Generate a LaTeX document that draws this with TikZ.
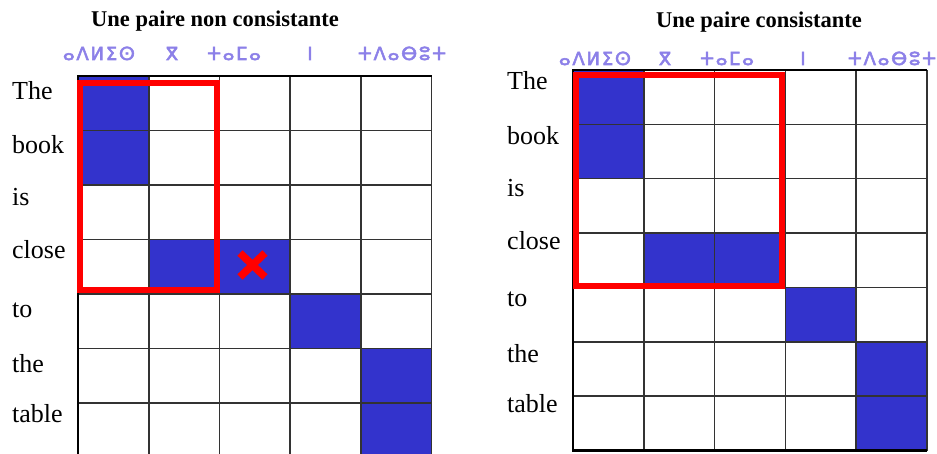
\documentclass[tikz,border=0pt]{standalone}
\usepackage{fontspec}
\setmainfont{Liberation Serif}
\newfontfamily\tifi[LetterSpace=10,BoldFont={DejaVu Sans},BoldFeatures={FakeBold=3}]{DejaVu Sans}
\definecolor{cellblue}{RGB}{51,51,204}
\definecolor{tifcol}{RGB}{140,128,232}
\begin{document}
\begin{tikzpicture}[x=1pt,y=-1pt,
  word/.style={anchor=base west, font=\fontsize{26}{26}\selectfont, inner sep=0pt},
  tif/.style={anchor=base, font=\tifi\bfseries\fontsize{18}{18}\selectfont, text=tifcol, inner sep=0pt},
  ttl/.style={anchor=base, font=\bfseries\fontsize{22.5}{22.5}\selectfont, inner sep=0pt},
  gridline/.style={line width=1.6pt, draw=black!80},
  border/.style={line width=2.8pt, draw=black},
  redbox/.style={draw=red, line width=6.5pt},
  bluecell/.style={fill=cellblue}]
\useasboundingbox (0,0) rectangle (937,454);
\clip (0,0) rectangle (937,454);

% ---------- left panel ----------
\node[ttl] (t1) at (215,27) {Une paire non consistante};
\foreach \c/\r in {1/1,1/2,2/4,3/4,4/5,5/6,5/7}
  \fill[bluecell] ({78+(\c-1)*70.7},{76+(\r-1)*54.5}) rectangle ++(70.7,54.5);
\foreach \i in {1,...,5}
  \draw[gridline] ({78+\i*70.7},76) -- ({78+\i*70.7},460);
\foreach \j in {1,...,6}
  \draw[gridline] (78,{76+\j*54.5}) -- (431.5,{76+\j*54.5});
\draw[border] (78,460) -- (78,76) -- (431.5,76);
\draw[redbox] (80,83) rectangle (217,290);
\draw[red, line width=7.5pt] (240,253) -- (265,277) (240,277) -- (265,253);

\node[tif] (la1) at (99,60) {ⴰⴷⵍⵉⵙ};
\node[tif] (la2) at (172,60) {ⴳ};
\node[tif] (la3) at (234,60) {ⵜⴰⵎⴰ};
\node[tif] (la4) at (310,60) {ⵏ};
\node[tif] (la5) at (402,60) {ⵜⴷⴰⴱⵓⵜ};

\node[word] (lw1) at (12,100) {The};
\node[word] (lw2) at (12,154) {book};
\node[word] (lw3) at (12,206) {is};
\node[word] (lw4) at (12,259) {close};
\node[word] (lw5) at (12,317) {to};
\node[word] (lw6) at (12,372) {the};
\node[word] (lw7) at (12,422) {table};

% ---------- right panel ----------
\node[ttl] (t2) at (759,28) {Une paire consistante};
\foreach \c/\r in {1/1,1/2,2/4,3/4,4/5,5/6,5/7}
  \fill[bluecell] ({573+(\c-1)*70.8},{70+(\r-1)*54.35}) rectangle ++(70.8,54.35);
\foreach \i in {1,...,5}
  \draw[gridline] ({573+\i*70.8},70) -- ({573+\i*70.8},450.5);
\foreach \j in {1,...,6}
  \draw[gridline] (573,{70+\j*54.35}) -- (927,{70+\j*54.35});
\draw[border] (927,450.5) -- (573,450.5) -- (573,70) -- (927,70);
\draw[redbox] (576,75) rectangle (782,286);

\node[tif] (ra1) at (595,65) {ⴰⴷⵍⵉⵙ};
\node[tif] (ra2) at (665,65) {ⴳ};
\node[tif] (ra3) at (727,65) {ⵜⴰⵎⴰ};
\node[tif] (ra4) at (803,65) {ⵏ};
\node[tif] (ra5) at (892,65) {ⵜⴷⴰⴱⵓⵜ};

\node[word] (rw1) at (507,90) {The};
\node[word] (rw2) at (507,145) {book};
\node[word] (rw3) at (507,197) {is};
\node[word] (rw4) at (507,250) {close};
\node[word] (rw5) at (507,307) {to};
\node[word] (rw6) at (507,362) {the};
\node[word] (rw7) at (507,412) {table};
\end{tikzpicture}
\end{document}
